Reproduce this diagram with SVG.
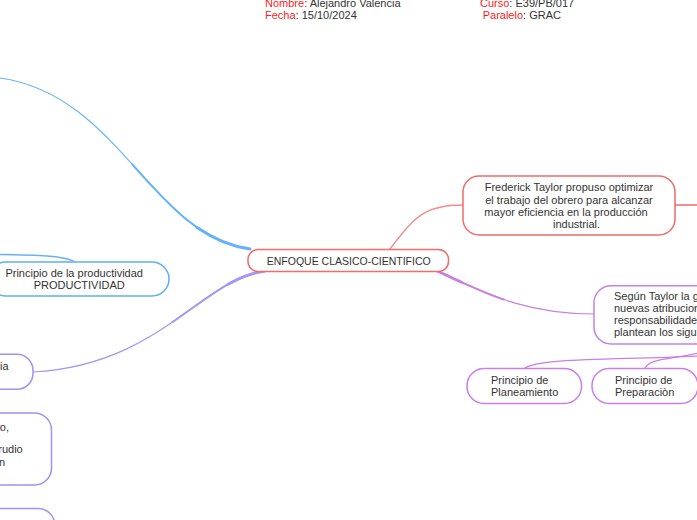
<svg xmlns="http://www.w3.org/2000/svg" width="697" height="520" viewBox="0 0 697 520">
<style>
  text { font-family: "Liberation Sans", Arial, sans-serif; font-size: 11px; fill: #333333; }
  .lbl { color: #ff1a1a; fill: #ff1a1a; }
  .red { fill: #ffffff; stroke: #f26b6b; stroke-width: 1.5; }
  .blue { fill: #ffffff; stroke: #5eaef5; stroke-width: 1.5; }
  .vio { fill: #ffffff; stroke: #9f92f5; stroke-width: 1.5; }
  .orc { fill: #ffffff; stroke: #c680e6; stroke-width: 1.5; }
  .c { fill: none; stroke-linecap: round; }
  .mid { text-anchor: middle; }
  .end { text-anchor: end; }
</style>
<rect width="697" height="520" fill="#ffffff"/>

<g id="connectors">
  <!-- blue main branch (tapered) -->
  <path class="c" stroke="#66b2f6" stroke-width="1.2" d="M0,78 C120,95 150,235 250,249"/>
  <path class="c" stroke="#66b2f6" stroke-width="2" d="M132.5,164.6 C167.5,203.5 200,242 250,249"/>
  <path class="c" stroke="#66b2f6" stroke-width="2.8" d="M197.1,227.5 C212.8,238.4 230,246.2 250,249"/>
  <!-- blue connector entering productividad node -->
  <path class="c" stroke="#66b2f6" stroke-width="1.6" d="M-2,254.5 C40,255 62,256 73,261"/>
  <!-- violet left branch -->
  <path class="c" stroke="#a595f5" stroke-width="1.2" d="M265,271 C200,280 160,365 33,372"/>
  <path class="c" stroke="#a595f5" stroke-width="2" d="M265,271 C232.5,275.5 206.25,299 172.25,322.25"/>
  <path class="c" stroke="#a595f5" stroke-width="2.8" d="M265,271 C252,272.8 240,277.6 228.1,284.3"/>
  <!-- red branch to Frederick -->
  <path class="c" stroke="#f58c8c" stroke-width="1.3" d="M390,249 C415,216 425,205 463,205"/>
  <path class="c" stroke="#f26b6b" stroke-width="1.5" d="M675,205 L699,205"/>
  <!-- orchid branch to Segun -->
  <path class="c" stroke="#c680e6" stroke-width="1.2" d="M435,270 C480,290 520,314 595,314"/>
  <path class="c" stroke="#c680e6" stroke-width="2" d="M435,270 C457.5,280 478.75,291 503.75,299.5"/>
  <path class="c" stroke="#c680e6" stroke-width="2.8" d="M435,270 C444,274 452.8,278.2 461.7,282.3"/>
  <!-- orchid children -->
  <path class="c" stroke="#c680e6" stroke-width="1.2" d="M699,356 C610,360 540,358 525,368"/>
  <path class="c" stroke="#c680e6" stroke-width="1.2" d="M699,353 C670,360 650,358 645,368"/>
</g>

<g id="header">
  <text x="265" y="7"><tspan class="lbl">Nombre</tspan>: Alejandro Valencia</text>
  <text x="265" y="19.4"><tspan class="lbl">Fecha</tspan>: 15/10/2024</text>
  <text x="480" y="7"><tspan class="lbl">Curso</tspan>: E39/PB/017</text>
  <text x="482.7" y="19.4"><tspan class="lbl">Paralelo</tspan>: GRAC</text>
</g>

<g id="node-center">
  <rect class="red" x="248" y="249.5" width="200.5" height="22" rx="10"/>
  <text class="mid" x="348.7" y="264.5" style="font-size:10.5px">ENFOQUE CLASICO-CIENTIFICO</text>
</g>

<g id="node-frederick">
  <rect class="red" x="463" y="176" width="212" height="59" rx="16"/>
  <text class="mid" x="569" y="191">Frederick Taylor propuso optimizar</text>
  <text class="mid" x="569" y="203.5">el trabajo del obrero para alcanzar</text>
  <text class="mid" x="566" y="216">mayor eficiencia en la producción</text>
  <text class="mid" x="576.5" y="228">industrial.</text>
</g>

<g id="node-productividad">
  <rect class="blue" x="-11" y="262" width="180" height="34" rx="17"/>
  <text class="mid" x="74.2" y="277">Principio de la productividad</text>
  <text class="mid" x="79.2" y="289">PRODUCTIVIDAD</text>
</g>

<g id="node-left-a">
  <rect class="vio" x="-100" y="354.3" width="133" height="35" rx="16"/>
  <text class="end" x="8.5" y="370">ia</text>
</g>

<g id="node-left-b">
  <rect class="vio" x="-100" y="413" width="151.5" height="72" rx="17"/>
  <text class="end" x="9" y="430.5">o,</text>
  <text class="end" x="22.7" y="453">rudio</text>
  <text class="end" x="5" y="465.5">n</text>
</g>

<g id="node-left-c">
  <rect class="vio" x="-100" y="508.5" width="155" height="40" rx="17"/>
</g>

<g id="node-segun">
  <rect class="orc" x="594" y="285.7" width="160" height="58.3" rx="17"/>
  <text x="614" y="299.5">Según Taylor la g</text>
  <text x="614" y="312">nuevas atribucion</text>
  <text x="614" y="324">responsabilidade</text>
  <text x="614" y="336">plantean los sigu</text>
</g>

<g id="node-planeamiento">
  <rect class="orc" x="467" y="368.5" width="114.5" height="35" rx="17"/>
  <text x="491" y="384">Principio de</text>
  <text x="491" y="396">Planeamiento</text>
</g>

<g id="node-preparacion">
  <rect class="orc" x="592" y="368.5" width="106" height="35" rx="17"/>
  <text x="615" y="384">Principio de</text>
  <text x="615" y="396">Preparaciòn</text>
</g>
</svg>
